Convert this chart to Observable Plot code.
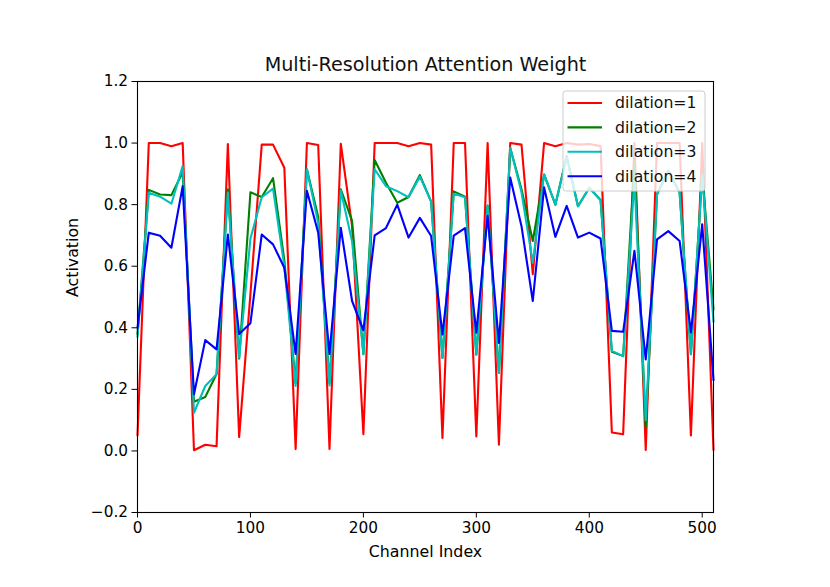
<!DOCTYPE html>
<html>
<head>
<meta charset="utf-8">
<script src="https://cdn.jsdelivr.net/npm/d3@7"></script>
<script src="https://cdn.jsdelivr.net/npm/@observablehq/plot@0.6"></script>
<style>
  html, body { margin: 0; padding: 0; background: white; }
</style>
</head>
<body>
<div id="chart"></div>
<script>
const title = "Multi-Resolution Attention Weight";
const xLabel = "Channel Index";
const yLabel = "Activation";

const channels = [0, 10, 20, 30, 40, 50, 60, 70, 80, 90, 100, 110, 120, 130, 140, 150, 160, 170, 180, 190,
  200, 210, 220, 230, 240, 250, 260, 270, 280, 290, 300, 310, 320, 330, 340, 350, 360, 370, 380, 390,
  400, 410, 420, 430, 440, 450, 460, 470, 480, 490, 500, 510];

const dilation1 = [0.05, 1.0, 1.0, 0.99, 1.0, 0.002, 0.02, 0.015, 0.997, 0.045,
  0.51, 0.995, 0.995, 0.92, 0.006, 1.0, 0.994, 0.006, 0.998, 0.73,
  0.054, 1.0, 1.0, 1.0, 0.99, 1.0, 0.995, 0.042, 1.0, 1.0,
  0.047, 1.0, 0.02, 1.0, 0.995, 0.574, 1.0, 0.99, 1.0, 0.995,
  0.997, 0.99, 0.06, 0.054, 1.0, 0.003, 1.0, 1.0, 1.0, 0.05,
  1.0, 0.003];

const dilation2 = [0.38, 0.848, 0.833, 0.831, 0.905, 0.16, 0.175, 0.25, 0.85, 0.30,
  0.84, 0.825, 0.886, 0.62, 0.22, 0.915, 0.76, 0.22, 0.85, 0.747,
  0.314, 0.945, 0.871, 0.806, 0.825, 0.896, 0.81, 0.302, 0.843, 0.826,
  0.313, 0.797, 0.253, 0.985, 0.85, 0.682, 0.898, 0.80, 0.958, 0.795,
  0.855, 0.815, 0.322, 0.308, 0.94, 0.076, 0.834, 0.91, 0.839, 0.314,
  0.9, 0.46];

const dilation3 = [0.37, 0.839, 0.826, 0.803, 0.925, 0.124, 0.211, 0.249, 0.839, 0.303,
  0.69, 0.824, 0.852, 0.60, 0.211, 0.915, 0.74, 0.213, 0.846, 0.68,
  0.314, 0.915, 0.86, 0.844, 0.824, 0.891, 0.81, 0.302, 0.835, 0.824,
  0.313, 0.797, 0.253, 0.985, 0.84, 0.611, 0.898, 0.80, 0.954, 0.795,
  0.855, 0.815, 0.325, 0.308, 0.88, 0.10, 0.833, 0.909, 0.839, 0.314,
  0.895, 0.42];

const dilation4 = [0.40, 0.709, 0.699, 0.66, 0.86, 0.184, 0.36, 0.33, 0.703, 0.38,
  0.415, 0.703, 0.671, 0.595, 0.315, 0.845, 0.709, 0.315, 0.725, 0.487,
  0.392, 0.70, 0.724, 0.80, 0.693, 0.757, 0.698, 0.378, 0.699, 0.724,
  0.384, 0.764, 0.351, 0.888, 0.73, 0.487, 0.856, 0.695, 0.796, 0.693,
  0.709, 0.69, 0.39, 0.387, 0.65, 0.297, 0.687, 0.714, 0.682, 0.385,
  0.736, 0.23];

const seriesNames = ["dilation=1", "dilation=2", "dilation=3", "dilation=4"];
const seriesColors = ["#ff0000", "#008000", "#00bfbf", "#0000ff"];
const xTicks = [0, 100, 200, 300, 400, 500];
const yTicks = [-0.2, 0.0, 0.2, 0.4, 0.6, 0.8, 1.0, 1.2];

const allSeries = [dilation1, dilation2, dilation3, dilation4];
const rows = allSeries.map(vals => channels.map((c, i) => ({channel: c, value: vals[i]})));

const W = 830, H = 587;
const mL = 137, mR = 117, mT = 81, mB = 75;

const fmtY = d => d3.format(".1f")(d);

const chart = Plot.plot({
  width: W,
  height: H,
  marginLeft: mL,
  marginRight: mR,
  marginTop: mT,
  marginBottom: mB,
  style: {fontFamily: "'DejaVu Sans', sans-serif", fontSize: "15.5px", background: "white", color: "black"},
  x: {domain: [0, 510]},
  y: {domain: [-0.2, 1.2]},
  marks: [
    ...rows.map((r, i) => Plot.line(r, {x: "channel", y: "value", stroke: seriesColors[i], strokeWidth: 2.1})),
    Plot.frame({stroke: "black", strokeWidth: 1.1}),
    Plot.axisX({ticks: xTicks, tickSize: 5.5, tickPadding: 4, tickFormat: d => String(d), label: null, fontSize: 15.3}),
    Plot.axisY({ticks: yTicks, tickSize: 5.5, tickPadding: 4, tickFormat: fmtY, label: null, fontSize: 15.3}),
    Plot.text([title], {frameAnchor: "top", lineAnchor: "middle", dy: -17, fontSize: 19.2, fill: "#111"}),
    Plot.text([xLabel], {frameAnchor: "bottom", lineAnchor: "middle", dy: 39, fontSize: 15.8}),
    Plot.text([yLabel], {frameAnchor: "left", lineAnchor: "middle", dx: -65, rotate: -90, fontSize: 15.8})
  ]
});

document.getElementById("chart").appendChild(chart);

// Legend (upper right, matplotlib-like)
const svg = d3.select(chart);
const lg = svg.append("g")
  .attr("font-family", "'DejaVu Sans', sans-serif")
  .attr("font-size", "15.7px")
  .attr("text-anchor", "start");
const lx = W - mR - 8 - 142, ly = mT + 10;
lg.append("rect")
  .attr("x", lx).attr("y", ly).attr("width", 142).attr("height", 100)
  .attr("rx", 3).attr("fill", "white").attr("fill-opacity", 0.8)
  .attr("stroke", "#cccccc").attr("stroke-width", 1);
seriesNames.forEach((name, i) => {
  const cy = ly + 12 + i * 24.4;
  lg.append("line")
    .attr("x1", lx + 4.5).attr("x2", lx + 39)
    .attr("y1", cy).attr("y2", cy)
    .attr("stroke", seriesColors[i]).attr("stroke-width", 2.1);
  lg.append("text")
    .attr("x", lx + 52).attr("y", cy).attr("dy", "0.35em")
    .attr("text-anchor", "start")
    .attr("fill", "#111").text(name);
});
</script>
</body>
</html>
